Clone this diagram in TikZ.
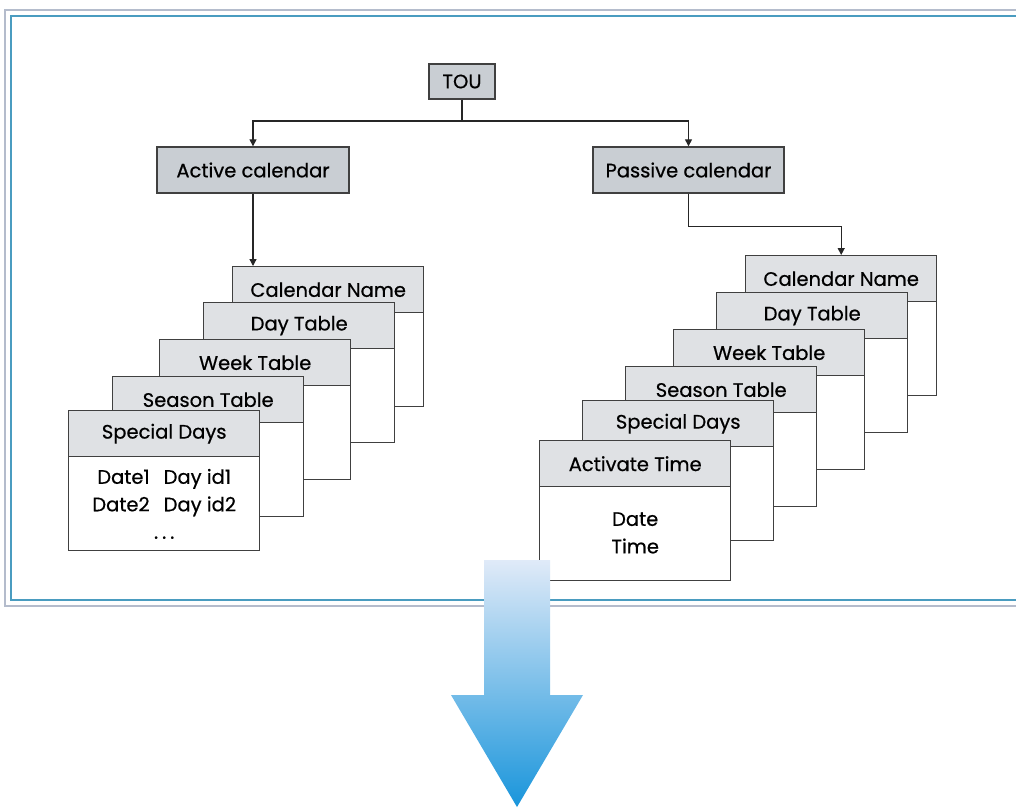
\documentclass[tikz,border=0pt]{standalone}
\usepackage{fontspec}
\setmainfont{Poppins}[FakeBold=0.6]
\usetikzlibrary{arrows.meta,calc}
\definecolor{hdr}{HTML}{DFE1E4}
\definecolor{boxfill}{HTML}{C9CED3}
\definecolor{edge}{HTML}{404040}
\definecolor{framegray}{HTML}{B4BCCC}
\definecolor{frameblue}{HTML}{4A9CC0}
\definecolor{arrtop}{HTML}{E0EAF8}
\definecolor{arrmid}{HTML}{B0CDEE}
\definecolor{arrbot}{HTML}{1995DB}
\begin{document}
\begin{tikzpicture}[x=1pt,y=-1pt,
  every node/.style={font=\fontsize{19.5}{27.5}\selectfont, text=black},
  topbox/.style={draw=edge, fill=boxfill, line width=1.4pt, inner sep=0pt, minimum height=46pt},
  card/.style={draw=edge, fill=white, line width=1.4pt, inner sep=0pt, minimum width=191pt, minimum height=140pt, anchor=north west},
  hdrbox/.style={draw=edge, fill=hdr, line width=1.4pt, inner sep=0pt, minimum width=191pt, minimum height=46pt, anchor=north},
  conn/.style={draw=black!85, line width=1.3pt, -{Triangle[length=7pt,width=7pt]}},
  plain/.style={draw=black!85, line width=1.3pt}
]
\useasboundingbox (0,0) rectangle (1016,807);
% frame
\draw[framegray, line width=1.5pt] (1030,10) -- (5,10) -- (5,606) -- (1030,606);
\draw[frameblue, line width=1.2pt] (1030,16) -- (11,16) -- (11,600) -- (1030,600);

% top nodes
\node[topbox, minimum width=66pt, minimum height=35pt] (tou) at (462,81.5) {TOU};
\node[topbox, minimum width=192pt] (act) at (253,170) {Active calendar};
\node[topbox, minimum width=191pt] (pas) at (688.5,170) {Passive calendar};
\coordinate (split) at (462,121);
\draw[plain] (tou.south) -- (split);
\draw[conn] (split) -| (act.north);
\draw[conn] (split) -| (pas.north);

% left stack
\foreach \n/\x/\y/\t in {L1/232/266/Calendar Name, L2/203/302/Day Table, L3/159/339/Week Table, L4/112/376/Season Table, L5/68/410/Special Days}{
  \node[card] (\n) at (\x,\y) {};
  \node[hdrbox] (\n h) at (\n.north) {\t};
}
\node[align=center] (L5b) at ($(L5.south)+(0,-47.5)$) {Date1\hspace{14pt}Day id1\\Date2\hspace{14pt}Day id2\\.\kern4pt.\kern4pt.};

% right stack
\foreach \n/\x/\y/\t in {R1/745/255/Calendar Name, R2/716/292/Day Table, R3/673/329/Week Table, R4/625/366/Season Table, R5/582/400/Special Days, R6/539/440/Activate Time}{
  \node[card] (\n) at (\x,\y) {};
  \node[hdrbox] (\n h) at (\n.north) {\t};
}
\node[align=center] (R6b) at ($(R6.south)+(0,-48.5)$) {Date\\Time};

% connectors to stacks
\draw[conn] (act.south) -- (act.south |- L1.north);
\draw[conn] (pas.south) -- ++(0,33) -| (R1.north);

% big arrow
\shade[top color=arrtop, middle color=arrmid, bottom color=arrbot]
  (484,560) -- (550,560) -- (550,695) -- (583,695) -- (517,807) -- (451,695) -- (484,695) -- cycle;
\end{tikzpicture}
\end{document}
